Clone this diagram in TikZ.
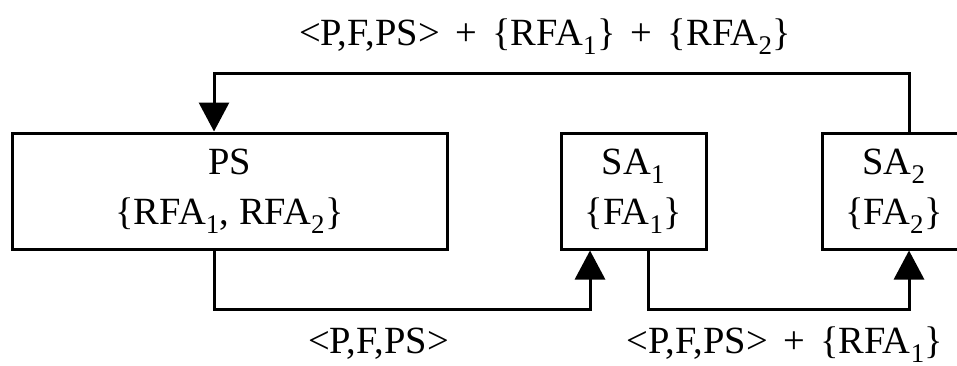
\documentclass[tikz,border=0pt]{standalone}
\usepackage{fontspec}
\setmainfont{Liberation Serif}
\usetikzlibrary{arrows.meta}
\newcommand{\plusgap}{\hspace{0.4em}+\hspace{0.4em}}
\begin{document}
\begin{tikzpicture}[x=1pt,y=-1pt,
	box_node/.style={rectangle,draw,line width=3pt,minimum height=116pt,inner sep=0pt,align=center,font=\fontsize{38.5}{50}\selectfont},
	msg_node/.style={anchor=base,inner sep=0pt,font=\fontsize{38.5}{46}\selectfont},
	flow_line/.style={line width=3pt,-{Triangle[width=30pt,length=29pt]}}]
			
			\clip (0,0) rectangle (957,365);
			
			\node[box_node,minimum width=435pt] (ps) at (229.5,191) {PS\\\{RFA\textsubscript{1}, RFA\textsubscript{2}\}};
			\node[box_node,minimum width=145pt] (sa1) at (633.5,191) {SA\textsubscript{1}\\\{FA\textsubscript{1}\}};
			\node[box_node,minimum width=144pt] (sa2) at (894,191) {SA\textsubscript{2}\\\{FA\textsubscript{2}\}};
			
			\node[msg_node] (m0) at (545,45) {<P,F,PS>\plusgap\{RFA\textsubscript{1}\}\plusgap\{RFA\textsubscript{2}\}};
			\node[msg_node] (m1) at (378.5,353) {<P,F,PS>};
			\node[msg_node] (m2) at (785,353) {<P,F,PS>\plusgap\{RFA\textsubscript{1}\}};
			
			\draw[flow_line] ([xshift=-15.5pt]ps.south) -- ++(0,59) -| ([xshift=-43.5pt]sa1.south);
			\draw[flow_line] ([xshift=14.5pt]sa1.south) -- ++(0,59) -| ([xshift=15pt]sa2.south);
			\draw[flow_line] ([xshift=15pt]sa2.north) -- ++(0,-58) -| ([xshift=-15.5pt]ps.north);
		\end{tikzpicture}
\end{document}
